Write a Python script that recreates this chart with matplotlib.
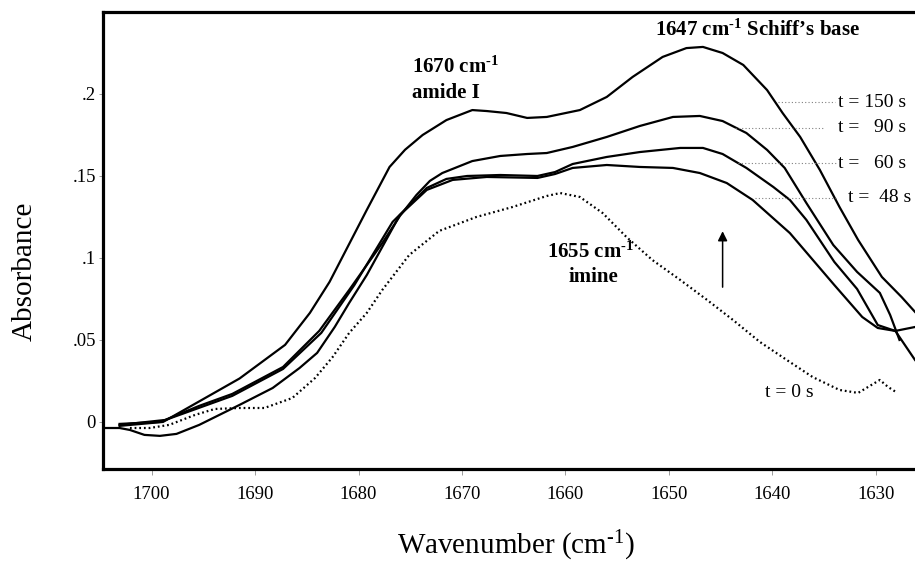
import matplotlib
matplotlib.use('Agg')
import matplotlib.pyplot as plt

plt.rcParams['font.family'] = ['Liberation Serif', 'DejaVu Serif']
plt.rcParams['mathtext.fontset'] = 'custom'
plt.rcParams['mathtext.rm'] = 'Liberation Serif'
plt.rcParams['mathtext.bf'] = 'Liberation Serif:bold'
plt.rcParams['mathtext.default'] = 'regular'

# spectra: wavenumber (cm-1) and absorbance
wn_150 = [1703.1, 1698.9, 1691.5, 1687.1, 1684.7, 1682.8, 1679.2, 1677.0, 1675.5, 1673.8,
          1671.5, 1669.0, 1667.6, 1665.7, 1663.7, 1661.8, 1658.6, 1656.0, 1653.5, 1650.6,
          1648.3, 1646.7, 1644.8, 1642.8, 1640.5, 1639.0, 1637.3, 1635.4, 1633.5, 1631.7,
          1629.4, 1627.5, 1626.2]
abs_150 = [-0.0024, 0.0, 0.0265, 0.0470, 0.0665, 0.0854, 0.1293, 0.1555, 0.1660, 0.1750,
           0.1841, 0.1902, 0.1896, 0.1884, 0.1854, 0.1860, 0.1902, 0.1982, 0.2104, 0.2226,
           0.2280, 0.2287, 0.2250, 0.2177, 0.2024, 0.1884, 0.1738, 0.1537, 0.1311, 0.1110,
           0.0884, 0.0762, 0.0671]

wn_90 = [1703.1, 1698.7, 1695.4, 1692.2, 1687.3, 1683.8, 1680.9, 1677.7, 1676.0, 1674.4,
         1673.1, 1671.9, 1669.0, 1666.3, 1663.7, 1661.8, 1659.3, 1656.0, 1652.8, 1649.6,
         1647.0, 1644.8, 1642.5, 1640.5, 1638.8, 1636.7, 1634.1, 1631.8, 1629.6, 1628.6,
         1627.7]
abs_90 = [-0.0018, 0.0012, 0.0098, 0.0171, 0.0335, 0.0555, 0.0805, 0.1091, 0.1256, 0.1384,
          0.1470, 0.1518, 0.1591, 0.1622, 0.1634, 0.1640, 0.1677, 0.1738, 0.1805, 0.1860,
          0.1866, 0.1835, 0.1762, 0.1659, 0.1549, 0.1335, 0.1079, 0.0915, 0.0787, 0.0652,
          0.0500]

wn_60 = [1703.1, 1699.2, 1692.2, 1687.3, 1683.6, 1680.4, 1676.7, 1673.4, 1671.5, 1669.5,
         1666.3, 1662.7, 1661.0, 1659.3, 1656.0, 1652.8, 1648.9, 1646.7, 1644.8, 1642.5,
         1639.9, 1638.3, 1636.7, 1634.0, 1631.8, 1629.8, 1628.1, 1626.2]
abs_60 = [-0.0012, 0.0, 0.0159, 0.0323, 0.0543, 0.0835, 0.1220, 0.1427, 0.1482, 0.1500,
          0.1506, 0.1500, 0.1524, 0.1573, 0.1616, 0.1646, 0.1671, 0.1671, 0.1634, 0.1549,
          0.1433, 0.1354, 0.1232, 0.0976, 0.0811, 0.0591, 0.0555, 0.0378]

wn_48 = [1704.7, 1703.1, 1702.1, 1700.7, 1699.2, 1697.6, 1695.4, 1691.5, 1688.3, 1685.7,
         1684.0, 1682.3, 1680.9, 1679.2, 1676.0, 1673.4, 1670.9, 1667.6, 1662.7, 1661.0,
         1659.3, 1656.0, 1652.8, 1649.6, 1647.0, 1644.4, 1641.9, 1638.3, 1634.0, 1631.3,
         1629.8, 1628.1, 1626.2]
abs_48 = [-0.0037, -0.0037, -0.0049, -0.0079, -0.0085, -0.0073, -0.0018, 0.0104, 0.0207, 0.0329,
          0.0421, 0.0579, 0.0726, 0.0896, 0.1262, 0.1415, 0.1476, 0.1494, 0.1488, 0.1512,
          0.1549, 0.1567, 0.1555, 0.1549, 0.1518, 0.1457, 0.1354, 0.1152, 0.0835, 0.0640,
          0.0573, 0.0555, 0.0579]

wn_0 = [1702.1, 1700.2, 1698.3, 1695.8, 1693.9, 1691.5, 1689.1, 1686.4, 1684.2, 1682.5,
        1680.9, 1679.2, 1677.7, 1675.1, 1672.2, 1668.6, 1665.1, 1661.8, 1660.5, 1658.6,
        1656.4, 1654.1, 1651.6, 1648.9, 1646.3, 1643.8, 1641.2, 1638.6, 1636.1, 1633.5,
        1631.7, 1630.4, 1629.6, 1628.8, 1627.9]
abs_0 = [-0.0037, -0.0037, -0.0018, 0.0043, 0.0079, 0.0085, 0.0085, 0.0146, 0.0268, 0.0396,
         0.0543, 0.0665, 0.0805, 0.1018, 0.1165, 0.1250, 0.1311, 0.1378, 0.1396, 0.1372,
         0.1274, 0.1128, 0.0988, 0.0866, 0.0744, 0.0622, 0.0488, 0.0378, 0.0274, 0.0195,
         0.0177, 0.0226, 0.0256, 0.0213, 0.0177]

x_ticks = [1700, 1690, 1680, 1670, 1660, 1650, 1640, 1630]
y_ticks = [0, 0.05, 0.1, 0.15, 0.2]
y_tick_labels = ['0', '.05', '.1', '.15', '.2']

fig = plt.figure(figsize=(9.15, 5.61), dpi=100)
ax = fig.add_axes([0.1126, 0.164, 0.8874, 0.8146])

for wn, ab in [(wn_150, abs_150), (wn_90, abs_90), (wn_60, abs_60), (wn_48, abs_48)]:
    ax.plot(wn, ab, color='black', lw=1.6, solid_joinstyle='round')
ax.plot(wn_0, abs_0, color='black', lw=1.6, linestyle=(0, (0.8, 1.3)))

ax.set_xlim(1704.7, 1626.2)
ax.set_ylim(-0.0287, 0.25)

ax.set_xticks(x_ticks)
ax.set_yticks(y_ticks)
ax.set_yticklabels(y_tick_labels)
ax.tick_params(axis='x', direction='out', length=4, width=0.6, color='0.55',
               labelsize=13.5, pad=8)
ax.tick_params(axis='y', direction='out', length=3, width=0.6, color='0.55',
               labelsize=13.5, pad=2)

for side in ['left', 'bottom', 'top']:
    ax.spines[side].set_linewidth(2.3)
ax.spines['right'].set_visible(False)

ax.set_ylabel('Absorbance', fontsize=21)
ax.yaxis.set_label_coords(-0.080, 0.433)
ax.set_xlabel('Wavenumber (cm$^{\\text{-}1}$)', fontsize=21)
ax.xaxis.set_label_coords(0.509, -0.130)

# peak annotations
bold = dict(fontsize=15, fontweight='bold')
sup = '$^{\\mathbf{\\text{-}1}}$'
ax.text(1674.8, 0.2165, '1670 cm' + sup, ha='left', va='center', **bold)
ax.text(1674.8, 0.2006, 'amide I', ha='left', va='center', **bold)
ax.text(1651.35, 0.239, '1647 cm' + sup + ' Schiff\u2019s base', ha='left', va='center', **bold)
ax.text(1657.6, 0.1037, '1655 cm' + sup, ha='center', va='center', **bold)
ax.text(1657.3, 0.0884, 'imine', ha='center', va='center', **bold)

# time labels with dotted leaders
ax.text(1640.7, 0.0177, 't = 0 s', ha='left', va='center', fontsize=14)
t_labels = [('t = 150 s', 1633.66, 0.1951, 1639.46, 1633.95),
            ('t =   90 s', 1633.66, 0.1793, 1643.62, 1634.91),
            ('t =   60 s', 1633.66, 0.1579, 1643.33, 1633.66),
            ('t =  48 s', 1632.69, 0.1366, 1641.68, 1633.66)]
for lab, tx, ty, x0, x1 in t_labels:
    ax.text(tx, ty, lab, ha='left', va='center', fontsize=14, clip_on=False)
    ax.plot([x0, x1], [ty, ty], color='0.5', lw=0.8, linestyle=(0, (1, 2)))

ax.annotate('', xy=(1644.8, 0.118), xytext=(1644.8, 0.0805),
            arrowprops=dict(arrowstyle='-|>', lw=1.1, color='black', mutation_scale=14))

fig.savefig('out.png', dpi=100)
